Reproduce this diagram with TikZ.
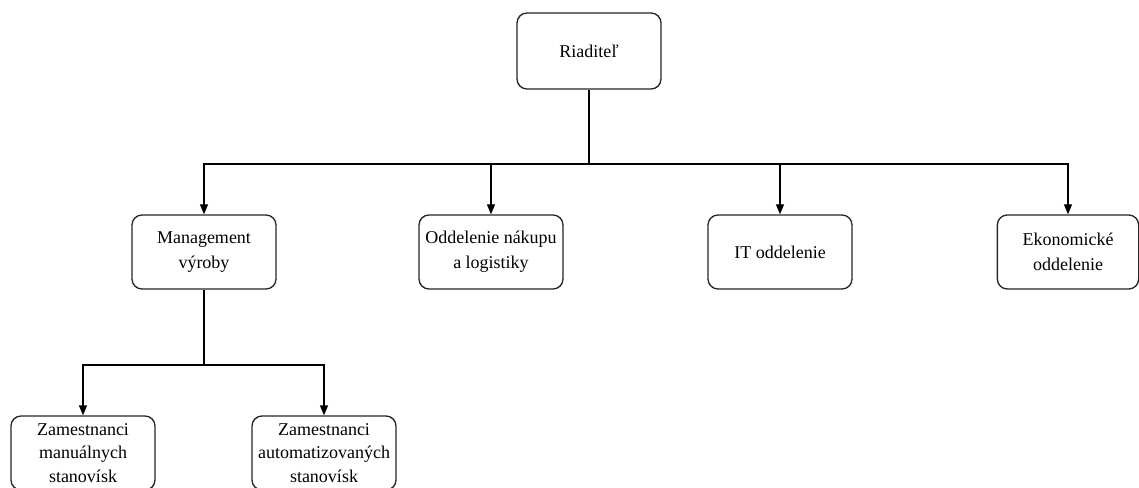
\documentclass[tikz,border=0pt]{standalone}
\usepackage{fontspec}
\setmainfont{Liberation Serif}
\usetikzlibrary{arrows.meta}
\begin{document}
\begin{tikzpicture}[x=0.75pt,y=-0.75pt,
  box/.style={draw=black!85, line width=1pt, rounded corners=7.5pt, fill=white,
    inner sep=0pt, align=center, font=\fontsize{13.5}{18.5}\selectfont,
    minimum width=108pt, minimum height=55.5pt},
  small/.style={font=\fontsize{13.5}{17.5}\selectfont},
  conn/.style={line width=1pt, draw=black},
  arr/.style={conn, -{Triangle[length=7.5pt,width=6pt]}}]
\useasboundingbox (0,0) rectangle (1139,488);
\node[box, minimum height=57pt] (dir) at (589,51) {Riaditeľ};
\node[box] (mgmt) at (204,252) {Management\\výroby};
\node[box] (nak) at (491,252) {Oddelenie nákupu\\a logistiky};
\node[box] (it) at (780,252) {IT oddelenie};
\node[box, minimum width=106pt] (eko) at (1068,252) {Ekonomické\\oddelenie};
\node[box, small] (man) at (83,453) {Zamestnanci\\manuálnych\\stanovísk};
\node[box, small] (auto) at (324,453) {Zamestnanci\\automatizovaných\\stanovísk};
\coordinate (j1) at (589,164);
\coordinate (j2) at (204,365);
\draw[conn] (dir) -- (j1);
\draw[arr] (j1) -| (mgmt);
\draw[arr] (j1) -| (nak);
\draw[arr] (j1) -| (it);
\draw[arr] (j1) -| (eko);
\draw[conn] (mgmt) -- (j2);
\draw[arr] (j2) -| (man);
\draw[arr] (j2) -| (auto);
\end{tikzpicture}
\end{document}
